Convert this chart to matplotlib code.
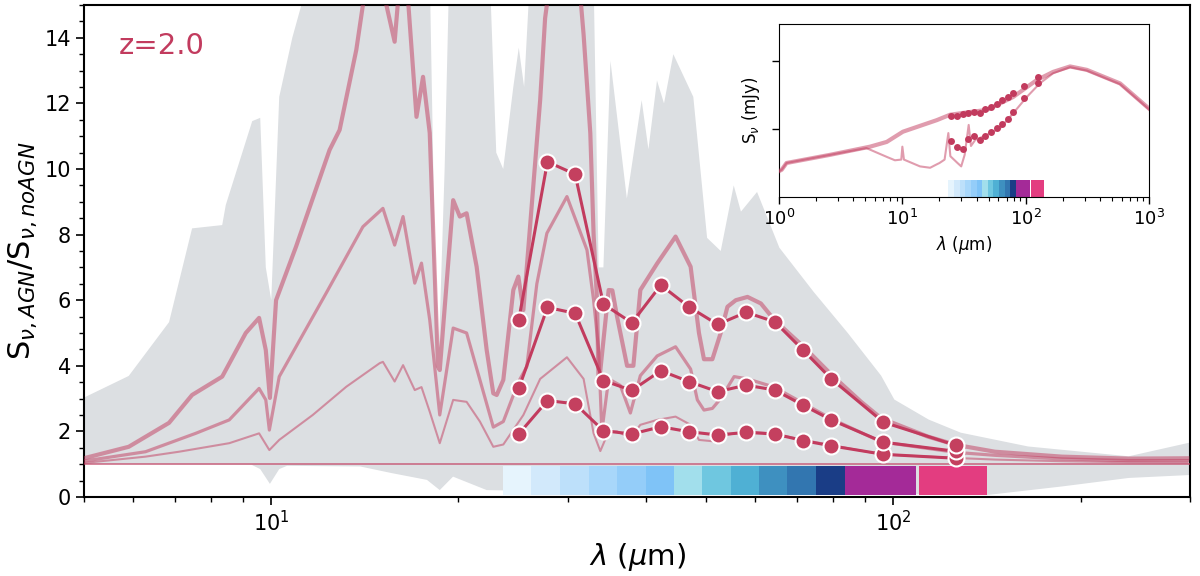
import numpy as np
import matplotlib
matplotlib.use('Agg')
import matplotlib.pyplot as plt
from matplotlib.ticker import NullFormatter, MultipleLocator

# ---------------- data ----------------
# PRIMA-like hyperspectral band edges (um) and polarimetric bands
band_edges = [23.6, 26.2, 29.1, 32.4, 36.0, 40.0, 44.4, 49.3, 54.8, 60.9, 67.6, 75.1, 83.5]
band_colors = ['#e6f4fd', '#d2e9fb', '#bde0fa', '#a8d7fa', '#94cdf9', '#7fc3f7',
               '#a2dfec', '#6fc7e0', '#4fb0d4', '#3e90c0', '#3276b0', '#1a3d86']
ppi_lo = [83.5, 109.9]
ppi_hi = [108.9, 141.6]
ppi_colors = ['#a42a98', '#e33d80']

# photometry (band-averaged ratios)
phot_lam = [25.0, 27.8, 30.8, 34.2, 38.0, 42.3, 46.9, 52.2, 58.0, 64.5, 71.6, 79.5, 96.4, 126.3]
phot_A = [5.40, 10.22, 9.84, 5.88, 5.31, 6.46, 5.80, 5.26, 5.63, 5.34, 4.48, 3.60, 2.28, 1.57]
phot_B = [3.31, 5.78, 5.60, 3.55, 3.25, 3.85, 3.52, 3.21, 3.41, 3.26, 2.80, 2.35, 1.67, 1.39]
phot_C = [1.92, 2.94, 2.84, 2.02, 1.92, 2.14, 1.99, 1.89, 1.97, 1.92, 1.72, 1.56, 1.30, 1.18]

# model ratio curves
A_lam = [5.02, 5.90, 6.85, 7.46, 8.34, 9.10, 9.56, 9.80, 9.95, 10.18, 10.96, 12.41, 12.88, 13.70,
         14.04, 14.9, 15.79, 15.97, 16.5, 17.12, 17.54, 17.98, 18.54, 18.66, 19.61, 20.10, 20.61,
         21.39, 22.20, 22.75, 23.04, 23.61, 24.50, 24.96, 25.43, 27.06, 27.56, 27.87, 29.9, 31.39,
         31.78, 32.58, 32.98, 33.40, 33.60, 34.87, 35.35, 35.97, 37.33, 38.21, 39.21, 41.73, 44.67,
         47.23, 48.71, 49.62, 51.19, 52.79, 54.13, 55.83, 58.30, 61.26, 64.37, 71.78, 79.62, 88.8,
         95.6, 113.7, 126.0, 145.7, 186.6, 239.0, 297.0]
A_val = [1.19, 1.53, 2.26, 3.11, 3.67, 5.00, 5.46, 4.48, 3.02, 6.00, 7.63, 10.58, 11.19, 13.63,
         15.0, 16.0, 13.88, 15.0, 15.8, 11.59, 12.81, 11.10, 3.97, 3.87, 9.05, 8.55, 8.65,
         7.02, 4.48, 3.16, 3.11, 3.57, 6.31, 6.72, 5.70, 12.1, 14.6, 15.3, 17.0, 15.3,
         14.1, 11.09, 8.0, 6.0, 3.36, 6.31, 6.3, 5.5, 4.0, 4.0, 6.31, 7.12, 7.94,
         7.02, 5.0, 4.2, 4.2, 5.0, 5.8, 6.0, 6.1, 5.9, 5.4, 4.58, 3.72, 2.9,
         2.4, 1.84, 1.59, 1.38, 1.23, 1.17, 1.18]
B_lam = [5.02, 6.28, 7.56, 8.56, 9.56, 9.80, 9.93, 10.30, 12.25, 14.04, 15.12, 15.79, 16.29, 17.01,
         17.44, 17.98, 18.66, 19.61, 20.61, 21.65, 22.75, 23.61, 24.96, 25.75, 26.73, 27.74, 29.88,
         32.18, 32.98, 33.60, 34.0, 34.87, 36.41, 37.79, 39.21, 41.73, 44.67, 47.23, 48.42, 49.62,
         51.19, 52.79, 55.48, 58.30, 64.37, 71.78, 79.62, 95.6, 126.0, 145.7, 186.6, 239.0, 297.0]
B_val = [1.10, 1.38, 1.94, 2.35, 3.31, 2.96, 2.04, 3.67, 6.21, 8.24, 8.80, 7.68, 8.55, 6.52,
         7.13, 5.4, 2.50, 5.15, 5.00, 3.57, 2.13, 2.3, 3.5, 3.97, 6.5, 8.04, 9.16,
         7.53, 6.0, 4.48, 2.0, 3.6, 3.4, 2.56, 3.7, 4.3, 4.58, 3.9, 2.96, 2.65,
         2.7, 3.0, 3.67, 3.6, 3.35, 2.85, 2.38, 1.68, 1.36, 1.27, 1.16, 1.11, 1.11]
C_lam = [5.02, 6.28, 7.11, 8.56, 9.56, 9.93, 10.30, 11.66, 13.20, 14.94, 15.12, 15.79, 16.29, 17.01,
         17.44, 17.98, 18.66, 19.61, 20.61, 21.65, 22.75, 23.61, 25.43, 27.06, 29.88, 31.78, 32.98,
         33.81, 34.87, 35.97, 37.79, 39.21, 41.73, 44.67, 47.23, 48.71, 51.19, 54.13, 58.30, 64.37,
         71.78, 79.62, 95.6, 126.0, 145.7, 186.6, 239.0, 297.0]
C_val = [1.04, 1.23, 1.38, 1.64, 1.94, 1.43, 1.74, 2.50, 3.36, 4.08, 4.12, 3.52, 4.02, 3.26,
         3.35, 2.6, 1.64, 2.96, 2.9, 2.3, 1.53, 1.6, 2.5, 3.6, 4.26, 3.6, 1.94,
         1.4, 2.0, 2.0, 1.8, 2.2, 2.35, 2.45, 2.2, 1.74, 1.7, 1.9, 2.0, 1.93,
         1.74, 1.58, 1.30, 1.19, 1.14, 1.09, 1.06, 1.05]

# envelope of the full grid of models (grey)
up_lam = [5.0, 5.9, 6.85, 7.46, 8.34, 8.45, 9.32, 9.6, 9.8, 10.0, 10.3, 10.81, 11.37, 18.0, 18.3,
          18.6, 19.0, 19.3, 22.5, 23.0, 23.6, 24.5, 25.0, 25.5, 26.0, 33.0, 33.6, 34.2, 35.1, 37.3,
          39.4, 40.4, 41.7, 42.8, 44.3, 47.7, 50.2, 52.8, 55.4, 56.9, 60.4, 65.6, 74.5, 84.5, 95.6,
          100.4, 114.0, 128.4, 164.7, 239.0, 300.0]
up_val = [3.03, 3.69, 5.33, 8.19, 8.29, 8.9, 11.46, 11.56, 7.0, 6.0, 12.2, 14.0, 15.5, 15.5, 8.0,
          4.5, 10.0, 15.5, 15.5, 10.5, 10.0, 12.5, 13.7, 12.5, 15.5, 15.5, 7.0, 7.0, 13.3, 9.1,
          12.1, 10.6, 12.7, 12.0, 13.5, 12.2, 7.9, 7.5, 9.5, 8.7, 9.3, 7.6, 6.25, 5.0, 3.7,
          2.97, 2.36, 1.96, 1.54, 1.24, 1.66]
low_lam = [5.0, 9.3, 9.6, 9.95, 10.3, 10.6, 13.9, 15.6, 17.8, 18.66, 19.6, 22.2, 23.6, 141.6,
           186.6, 239.0, 300.0]
low_val = [1.0, 0.98, 0.85, 0.40, 0.85, 0.95, 0.93, 0.73, 0.52, 0.21, 0.62, 0.21, 0.2, 0.06,
           0.32, 0.58, 0.67]

# inset SEDs (arbitrary log-flux units)
ins_agn_lam = [1.0, 1.05, 1.15, 2.59, 5.47, 7.47, 10.1, 19.0, 24.4, 35.4, 48.4, 79.0, 123.0, 167.0,
               229.0, 313.0, 583.0, 1000.0]
ins_agn_val = [0.38, 0.40, 0.50, 0.62, 0.74, 0.81, 0.96, 1.13, 1.21, 1.25, 1.28, 1.47, 1.72, 1.84,
               1.92, 1.87, 1.67, 1.30]
ins_sf_lam = [1.0, 1.05, 1.15, 2.59, 5.1, 7.47, 8.7, 9.8, 10.0, 10.3, 13.9, 16.8, 19.0, 20.0, 22.0,
              23.6, 24.5, 28.0, 30.0, 32.0, 34.5, 36.0, 39.0, 48.0, 62.0, 79.0, 102.0, 130.0, 167.0,
              229.0, 313.0, 583.0, 1000.0]
ins_sf_val = [0.38, 0.40, 0.50, 0.62, 0.72, 0.59, 0.54, 0.55, 0.74, 0.55, 0.45, 0.43, 0.48, 0.50,
              0.55, 0.94, 0.60, 0.50, 0.45, 0.62, 1.06, 0.75, 0.84, 0.91, 1.01, 1.23, 1.47, 1.67,
              1.82, 1.91, 1.86, 1.66, 1.29]
ins_phot_agn = [1.19, 1.19, 1.22, 1.24, 1.245, 1.24, 1.29, 1.32, 1.37, 1.43, 1.47, 1.53, 1.63, 1.76]
ins_phot_sf = [0.83, 0.74, 0.71, 0.85, 0.89, 0.84, 0.90, 0.96, 1.02, 1.07, 1.14, 1.25, 1.45, 1.67]

# ---------------- styling ----------------
crimson = '#c23b5e'
grey = '#dcdfe2'

fig = plt.figure(figsize=(12, 5.76), dpi=100)
ax = fig.add_axes([0.07, 0.1372, 0.9217, 0.8541])
ax.set_xscale('log')
ax.set_xlim(5, 300)
ax.set_ylim(0, 15)

# grey model grid envelope
poly_x = np.concatenate([up_lam, low_lam[::-1]])
poly_y = np.concatenate([up_val, low_val[::-1]])
ax.fill(poly_x, poly_y, color=grey, lw=0, zorder=1)

# filter bands
lefts = band_edges[:-1]
widths = [b - a for a, b in zip(band_edges[:-1], band_edges[1:])]
ax.bar(lefts, [0.9] * len(lefts), width=widths, bottom=0.05, align='edge',
       color=band_colors, lw=0, zorder=2)
ax.bar(ppi_lo, [0.9] * 2, width=[h - l for l, h in zip(ppi_lo, ppi_hi)], bottom=0.05,
       align='edge', color=ppi_colors, lw=0, zorder=2)

ax.axhline(1.0, color=crimson, alpha=0.7, lw=1.2, zorder=3)

# model curves
ax.plot(A_lam, A_val, color=crimson, alpha=0.5, lw=3.0, zorder=3, solid_joinstyle='round')
ax.plot(B_lam, B_val, color=crimson, alpha=0.5, lw=2.3, zorder=3, solid_joinstyle='round')
ax.plot(C_lam, C_val, color=crimson, alpha=0.5, lw=1.5, zorder=3, solid_joinstyle='round')

# photometry
for vals in (phot_C, phot_B, phot_A):
    ax.plot(phot_lam, vals, '-o', color=crimson, lw=2.2, ms=11.5, mfc='#c4405f',
            mec='white', mew=1.5, zorder=5)

ax.text(0.031, 0.90, 'z=2.0', transform=ax.transAxes, color=crimson, fontsize=21,
        va='baseline', ha='left')

ax.yaxis.set_major_locator(MultipleLocator(2))
ax.yaxis.set_minor_locator(MultipleLocator(0.5))
ax.xaxis.set_minor_formatter(NullFormatter())
ax.tick_params(which='major', length=6, width=1.2, labelsize=15)
ax.tick_params(which='minor', length=3.5, width=1.0)
for s in ax.spines.values():
    s.set_linewidth(1.5)
ax.set_xlabel(r'$\lambda$ ($\mu$m)', fontsize=21)
ax.set_ylabel(r'S$_{\nu, AGN}$/S$_{\nu, noAGN}$', fontsize=22, labelpad=4)

# ---------------- inset ----------------
ins = fig.add_axes([0.6492, 0.658, 0.3083, 0.3003])
ins.set_facecolor('white')
ins.set_xscale('log')
ins.set_xlim(1, 1000)
ins.set_ylim(0, 2.544)
ins.bar(lefts, [0.25] * len(lefts), width=widths, bottom=0, align='edge',
        color=band_colors, lw=0, zorder=2)
ins.bar(ppi_lo, [0.25] * 2, width=[h - l for l, h in zip(ppi_lo, ppi_hi)], bottom=0,
        align='edge', color=ppi_colors, lw=0, zorder=2)
ins.plot(ins_agn_lam, ins_agn_val, color=crimson, alpha=0.5, lw=3.0, zorder=3)
ins.plot(ins_sf_lam, ins_sf_val, color=crimson, alpha=0.5, lw=1.5, zorder=3)
ins.plot(phot_lam, ins_phot_agn, 'o', color=crimson, ms=5, mec='none', zorder=4)
ins.plot(phot_lam, ins_phot_sf, 'o', color=crimson, ms=5, mec='none', zorder=4)
ins.set_yticks([1, 2])
ins.set_yticklabels([])
ins.xaxis.set_minor_formatter(NullFormatter())
ins.tick_params(which='major', length=5, width=1.0, labelsize=13)
ins.tick_params(which='minor', length=3, width=0.8)
ins.set_xlabel(r'$\lambda$ ($\mu$m)', fontsize=12)
ins.set_ylabel(r'S$_\nu$ (mJy)', fontsize=12)

fig.savefig('out.png', dpi=100)
